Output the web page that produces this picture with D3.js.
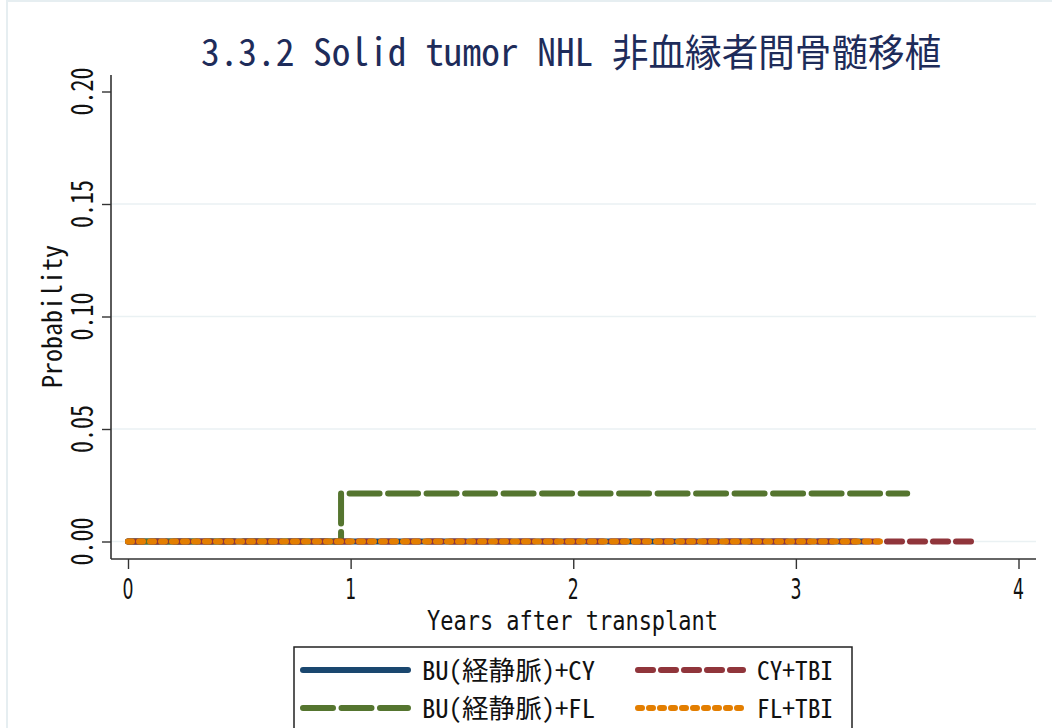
<!DOCTYPE html>
<html>
<head>
<meta charset="utf-8">
<script src="https://cdn.jsdelivr.net/npm/d3@7"></script>
<style>
  html, body { margin: 0; padding: 0; background: #fff; }
  svg { display: block; }
  text { font-family: "Noto Sans Mono CJK JP", "Noto Sans CJK JP", "DejaVu Sans Mono", sans-serif; }
  text.narrow { font-family: "DejaVu Sans Mono", "Liberation Mono", monospace; }
  text.digits { font-family: "DejaVu Sans Condensed", "DejaVu Sans", sans-serif; }
</style>
</head>
<body>
<svg id="chart" width="1052" height="728"></svg>
<script>
// Cumulative incidence curves (step functions) by conditioning regimen
const seriesNames = ["BU(経静脈)+CY", "BU(経静脈)+FL", "CY+TBI", "FL+TBI"];
const bucyTimes = [0, 3.3];
const bucyValues = [0, 0];
const buflTimes = [0, 0.957, 3.5];
const buflValues = [0, 0.0213, 0.0213];
const cytbiTimes = [0, 3.8];
const cytbiValues = [0, 0];
const fltbiTimes = [0, 3.4];
const fltbiValues = [0, 0];

const xTicks = [0, 1, 2, 3, 4];
const yTicks = [0, 0.05, 0.10, 0.15, 0.20];
const yTickLabels = ["0.00", "0.05", "0.10", "0.15", "0.20"];
const yGridValues = [0, 0.05, 0.10, 0.15];

const titleLatin = "3.3.2 Solid tumor NHL ";
const titleJa = "非血縁者間骨髄移植";
const xTitle = "Years after transplant";
const yTitle = "Probability";

const colors = ["#1a476f", "#55752f", "#90353b", "#e37e00"];
const dashes = [null, "30,8.5", "15,8", "4,7"];

const svg = d3.select("#chart");

// thin outer frame
svg.append("rect").attr("x", 7).attr("y", 1).attr("width", 1100).attr("height", 800)
  .attr("fill", "#fff").attr("stroke", "#e6eef1").attr("stroke-width", 2);

const plot = { left: 111, right: 1036, top: 75, bottom: 559 };
const x = d3.scaleLinear().domain([0, 4]).range([128, 1018.5]);
const y = d3.scaleLinear().domain([0, 0.2]).range([541.5, 91.5]);

// gridlines
svg.append("g").selectAll("line").data(yGridValues).join("line")
  .attr("x1", plot.left).attr("x2", plot.right)
  .attr("y1", d => y(d)).attr("y2", d => y(d))
  .attr("stroke", "#eaf1f3").attr("stroke-width", 1.6);

// axes
const axisColor = "#333";
const yAxis = d3.axisLeft(y).tickValues(yTicks).tickSize(9).tickFormat("");
const gy = svg.append("g").attr("transform", `translate(${plot.left},0)`).call(yAxis);
gy.select(".domain").remove();
gy.selectAll(".tick line").attr("stroke", axisColor).attr("stroke-width", 1.4);
svg.append("line").attr("x1", plot.left).attr("x2", plot.left).attr("y1", plot.top).attr("y2", plot.bottom)
  .attr("stroke", axisColor).attr("stroke-width", 1.6);

const xAxis = d3.axisBottom(x).tickValues(xTicks).tickSize(10).tickFormat("");
const gx = svg.append("g").attr("transform", `translate(0,${plot.bottom})`).call(xAxis);
gx.select(".domain").remove();
gx.selectAll(".tick line").attr("stroke", axisColor).attr("stroke-width", 1.4);
svg.append("line").attr("x1", plot.left).attr("x2", plot.right).attr("y1", plot.bottom).attr("y2", plot.bottom)
  .attr("stroke", axisColor).attr("stroke-width", 1.6);

// tick labels
svg.append("g").selectAll("text").data(xTicks).join("text")
  .attr("class", "digits")
  .attr("x", d => x(d)).attr("y", 598.5)
  .attr("text-anchor", "middle").attr("font-size", 29)
  .attr("textLength", 11).attr("lengthAdjust", "spacingAndGlyphs")
  .attr("fill", "#111").text(d => d);

svg.append("g").selectAll("text").data(yTicks).join("text")
  .attr("transform", d => `translate(93,${y(d)}) rotate(-90)`)
  .attr("text-anchor", "middle").attr("font-size", 30)
  .attr("textLength", 48).attr("lengthAdjust", "spacingAndGlyphs")
  .attr("fill", "#111").text((d, i) => yTickLabels[i]);

// axis titles
svg.append("text").attr("class", "narrow")
  .attr("x", 572.5).attr("y", 629.5).attr("text-anchor", "middle")
  .attr("font-size", 26).attr("textLength", 291).attr("lengthAdjust", "spacingAndGlyphs")
  .attr("fill", "#111").text(xTitle);
svg.append("text").attr("transform", "translate(62,316.5) rotate(-90)").attr("text-anchor", "middle")
  .attr("font-size", 27).attr("textLength", 143).attr("lengthAdjust", "spacingAndGlyphs")
  .attr("fill", "#111").text(yTitle);

// title
const t = svg.append("text").attr("y", 66).attr("font-size", 38).attr("font-weight", 300).attr("fill", "#1e2c5a");
t.append("tspan").attr("x", 201).attr("textLength", 411).attr("lengthAdjust", "spacingAndGlyphs").text(titleLatin);
t.append("tspan").attr("x", 612).attr("textLength", 329).attr("lengthAdjust", "spacingAndGlyphs").text(titleJa);

// curves
const seriesData = [
  [bucyTimes, bucyValues],
  [buflTimes, buflValues],
  [cytbiTimes, cytbiValues],
  [fltbiTimes, fltbiValues]
].map(([ts, vs]) => ts.map((tt, i) => ({ t: tt, v: vs[i] })));

const line = d3.line().x(d => x(d.t)).y(d => y(d.v)).curve(d3.curveStepAfter);
svg.append("g").selectAll("path").data(seriesData).join("path")
  .attr("d", line)
  .attr("fill", "none")
  .attr("stroke", (d, i) => colors[i])
  .attr("stroke-width", 6)
  .attr("stroke-linecap", "round")
  .attr("stroke-linejoin", "round")
  .attr("stroke-dasharray", (d, i) => dashes[i]);

// legend
svg.append("rect").attr("x", 294).attr("y", 647).attr("width", 558).attr("height", 120)
  .attr("fill", "#fff").attr("stroke", "#222").attr("stroke-width", 1.5);

const legendItems = [
  { i: 0, x: 303, y: 670, tx: 422, tl: 173 },
  { i: 2, x: 638, y: 670, tx: 757, tl: 76 },
  { i: 1, x: 303, y: 708, tx: 422, tl: 173 },
  { i: 3, x: 638, y: 708, tx: 757, tl: 76 }
];
const lg = svg.append("g").selectAll("g").data(legendItems).join("g");
lg.append("line")
  .attr("x1", d => d.x).attr("x2", d => d.x + 105)
  .attr("y1", d => d.y).attr("y2", d => d.y)
  .attr("stroke", d => colors[d.i]).attr("stroke-width", 6)
  .attr("stroke-linecap", "round")
  .attr("stroke-dasharray", d => dashes[d.i]);
lg.append("text")
  .attr("x", d => d.tx).attr("y", d => d.y + 10)
  .attr("font-size", 26).attr("textLength", d => d.tl).attr("lengthAdjust", "spacingAndGlyphs")
  .attr("fill", "#111").text(d => seriesNames[d.i]);
</script>
</body>
</html>
